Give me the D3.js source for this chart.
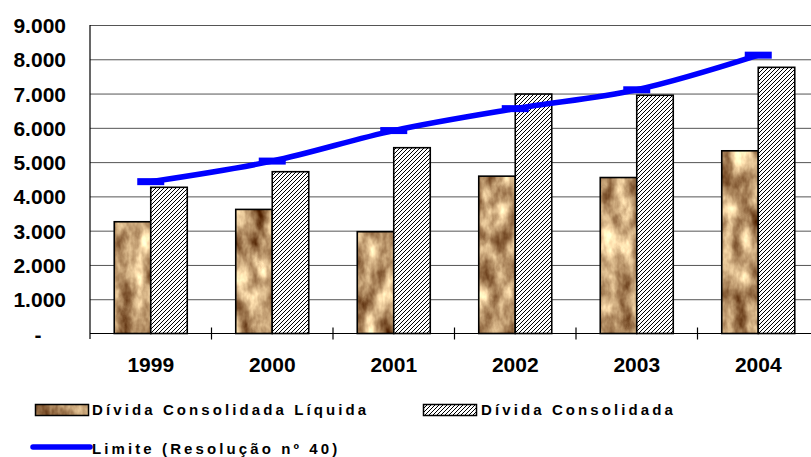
<!DOCTYPE html>
<html>
<head>
<meta charset="utf-8">
<script src="https://cdn.jsdelivr.net/npm/d3@7"></script>
<style>
  body { margin: 0; background: #fff; }
  svg { display: block; font-family: Arial, "Liberation Sans", sans-serif; }
</style>
</head>
<body>
<svg id="chart"></svg>
<script>
var years = ["1999", "2000", "2001", "2002", "2003", "2004"],
    liquida = [3260, 3620, 2970, 4590, 4550, 5330],
    consolidada = [4265, 4720, 5420, 6985, 6950, 7765],
    limite = [4430, 5030, 5920, 6560, 7110, 8120],
    yTicks = [0, 1000, 2000, 3000, 4000, 5000, 6000, 7000, 8000, 9000];

var W = 811, H = 457,
    margins = { top: 25, left: 90, bottom: 333.5 },
    plotRight = 819,
    barWidth = 36.5;

var svg = d3.select("#chart").attr("width", W).attr("height", H);

// textures
var defs = svg.append("defs");
var f = defs.append("filter").attr("id", "paper")
    .attr("filterUnits", "userSpaceOnUse")
    .attr("color-interpolation-filters", "sRGB")
    .attr("x", 0).attr("y", 0).attr("width", W).attr("height", H);
f.append("feTurbulence").attr("type", "fractalNoise")
    .attr("baseFrequency", "0.06 0.035").attr("numOctaves", 4).attr("seed", 3)
    .attr("result", "noise");
f.append("feColorMatrix").attr("in", "noise").attr("type", "matrix")
    .attr("values", "1.1 0 0 0 0.21  1.2 0 0 0 0.02  1.1 0 0 0 -0.1  0 0 0 0 1")
    .attr("result", "col");
f.append("feComposite").attr("in", "col").attr("in2", "SourceGraphic").attr("operator", "in");

var hatch = defs.append("pattern").attr("id", "hatch")
    .attr("patternUnits", "userSpaceOnUse").attr("width", 4).attr("height", 4);
hatch.append("rect").attr("width", 4).attr("height", 4).attr("fill", "#fff");
hatch.append("path").attr("d", "M-1,1 l2,-2 M0,4 l4,-4 M3,5 l2,-2")
    .attr("stroke", "#000").attr("stroke-width", 1);

var x = d3.scaleBand().domain(years).range([margins.left, plotRight]).padding(0);
var y = d3.scaleLinear().domain([0, 9000]).range([margins.bottom, margins.top]);

// grid + y labels
var yAxis = d3.axisLeft(y).tickValues(yTicks).tickSize(-(W - margins.left)).tickPadding(24)
    .tickFormat(function (d) { return d === 0 ? "-" : d3.format(",")(d).replace(/,/g, "."); });
var yG = svg.append("g").attr("transform", "translate(" + margins.left + ",0)").call(yAxis);
yG.select(".domain").remove();
yG.selectAll(".tick line").attr("stroke", "#555").attr("stroke-width", 1)
    .attr("display", function (d) { return d === 0 ? "none" : null; });
yG.selectAll(".tick text").attr("fill", "#000").attr("font-size", 21).attr("font-weight", "bold")
    .attr("dy", "0.36em");
yG.selectAll(".tick text").filter(function (d) { return d === 0; })
    .attr("x", -52).attr("text-anchor", "middle");

// axes lines
svg.append("line").attr("x1", margins.left).attr("x2", margins.left)
    .attr("y1", margins.top).attr("y2", 339).attr("stroke", "#000").attr("stroke-width", 1.2);
svg.append("line").attr("x1", margins.left).attr("x2", W)
    .attr("y1", y(0)).attr("y2", y(0)).attr("stroke", "#000").attr("stroke-width", 1.2);
svg.selectAll(".xtick").data(years.slice(1)).enter().append("line")
    .attr("x1", function (d) { return x(d); }).attr("x2", function (d) { return x(d); })
    .attr("y1", y(0) - 6).attr("y2", y(0) + 6).attr("stroke", "#000").attr("stroke-width", 1.2);

// x labels
var xAxis = d3.axisBottom(x).tickSize(0).tickPadding(0);
var xG = svg.append("g").attr("transform", "translate(0," + y(0) + ")").call(xAxis);
xG.select(".domain").remove();
xG.selectAll(".tick text").attr("fill", "#000").attr("font-size", 21).attr("font-weight", "bold")
    .attr("y", 38.5).attr("dy", 0);

// bars
function cx(i) { return x(years[i]) + x.bandwidth() / 2; }

svg.selectAll(".liq").data(liquida).enter().append("rect")
    .attr("x", function (d, i) { return cx(i) - barWidth; })
    .attr("y", function (d) { return y(d); })
    .attr("width", barWidth)
    .attr("height", function (d) { return y(0) - y(d); })
    .attr("fill", "#b08a5a").attr("filter", "url(#paper)");
svg.selectAll(".liqo").data(liquida).enter().append("rect")
    .attr("x", function (d, i) { return cx(i) - barWidth; })
    .attr("y", function (d) { return y(d); })
    .attr("width", barWidth)
    .attr("height", function (d) { return y(0) - y(d); })
    .attr("fill", "none").attr("stroke", "#000").attr("stroke-width", 1.6);

svg.selectAll(".con").data(consolidada).enter().append("rect")
    .attr("x", function (d, i) { return cx(i); })
    .attr("y", function (d) { return y(d); })
    .attr("width", barWidth)
    .attr("height", function (d) { return y(0) - y(d); })
    .attr("fill", "url(#hatch)").attr("stroke", "#000").attr("stroke-width", 1.6);

// limite line
var line = d3.line()
    .x(function (d, i) { return cx(i); })
    .y(function (d) { return y(d); })
    .curve(d3.curveCatmullRom.alpha(0.5));
svg.append("path").datum(limite).attr("d", line)
    .attr("fill", "none").attr("stroke", "#0000ff").attr("stroke-width", 5.5);
svg.selectAll(".mk").data(limite).enter().append("rect")
    .attr("x", function (d, i) { return cx(i) - 13.5; })
    .attr("y", function (d) { return y(d) - 3.5; })
    .attr("width", 27).attr("height", 7).attr("fill", "#0000ff");

// legend
var lg = svg.append("g").attr("font-size", 15).attr("font-weight", "bold")
    .attr("letter-spacing", 3.1).attr("fill", "#000");
lg.append("rect").attr("x", 35.5).attr("y", 404.5).attr("width", 53).attr("height", 11)
    .attr("fill", "#b08a5a").attr("filter", "url(#paper)");
lg.append("rect").attr("x", 35.5).attr("y", 404.5).attr("width", 53).attr("height", 11)
    .attr("fill", "none").attr("stroke", "#000").attr("stroke-width", 1.5);
lg.append("text").attr("x", 92).attr("y", 414.5).text("Dívida Consolidada Líquida");

lg.append("rect").attr("x", 423.5).attr("y", 404.5).attr("width", 53).attr("height", 11)
    .attr("fill", "url(#hatch)").attr("stroke", "#000").attr("stroke-width", 1.5);
lg.append("text").attr("x", 481).attr("y", 414.5).text("Dívida Consolidada");

lg.append("line").attr("x1", 33).attr("x2", 90).attr("y1", 447).attr("y2", 447)
    .attr("stroke", "#0000ff").attr("stroke-width", 5.5).attr("stroke-linecap", "round");
lg.append("text").attr("x", 92).attr("y", 454).text("Limite (Resolução nº 40)");
</script>
</body>
</html>
